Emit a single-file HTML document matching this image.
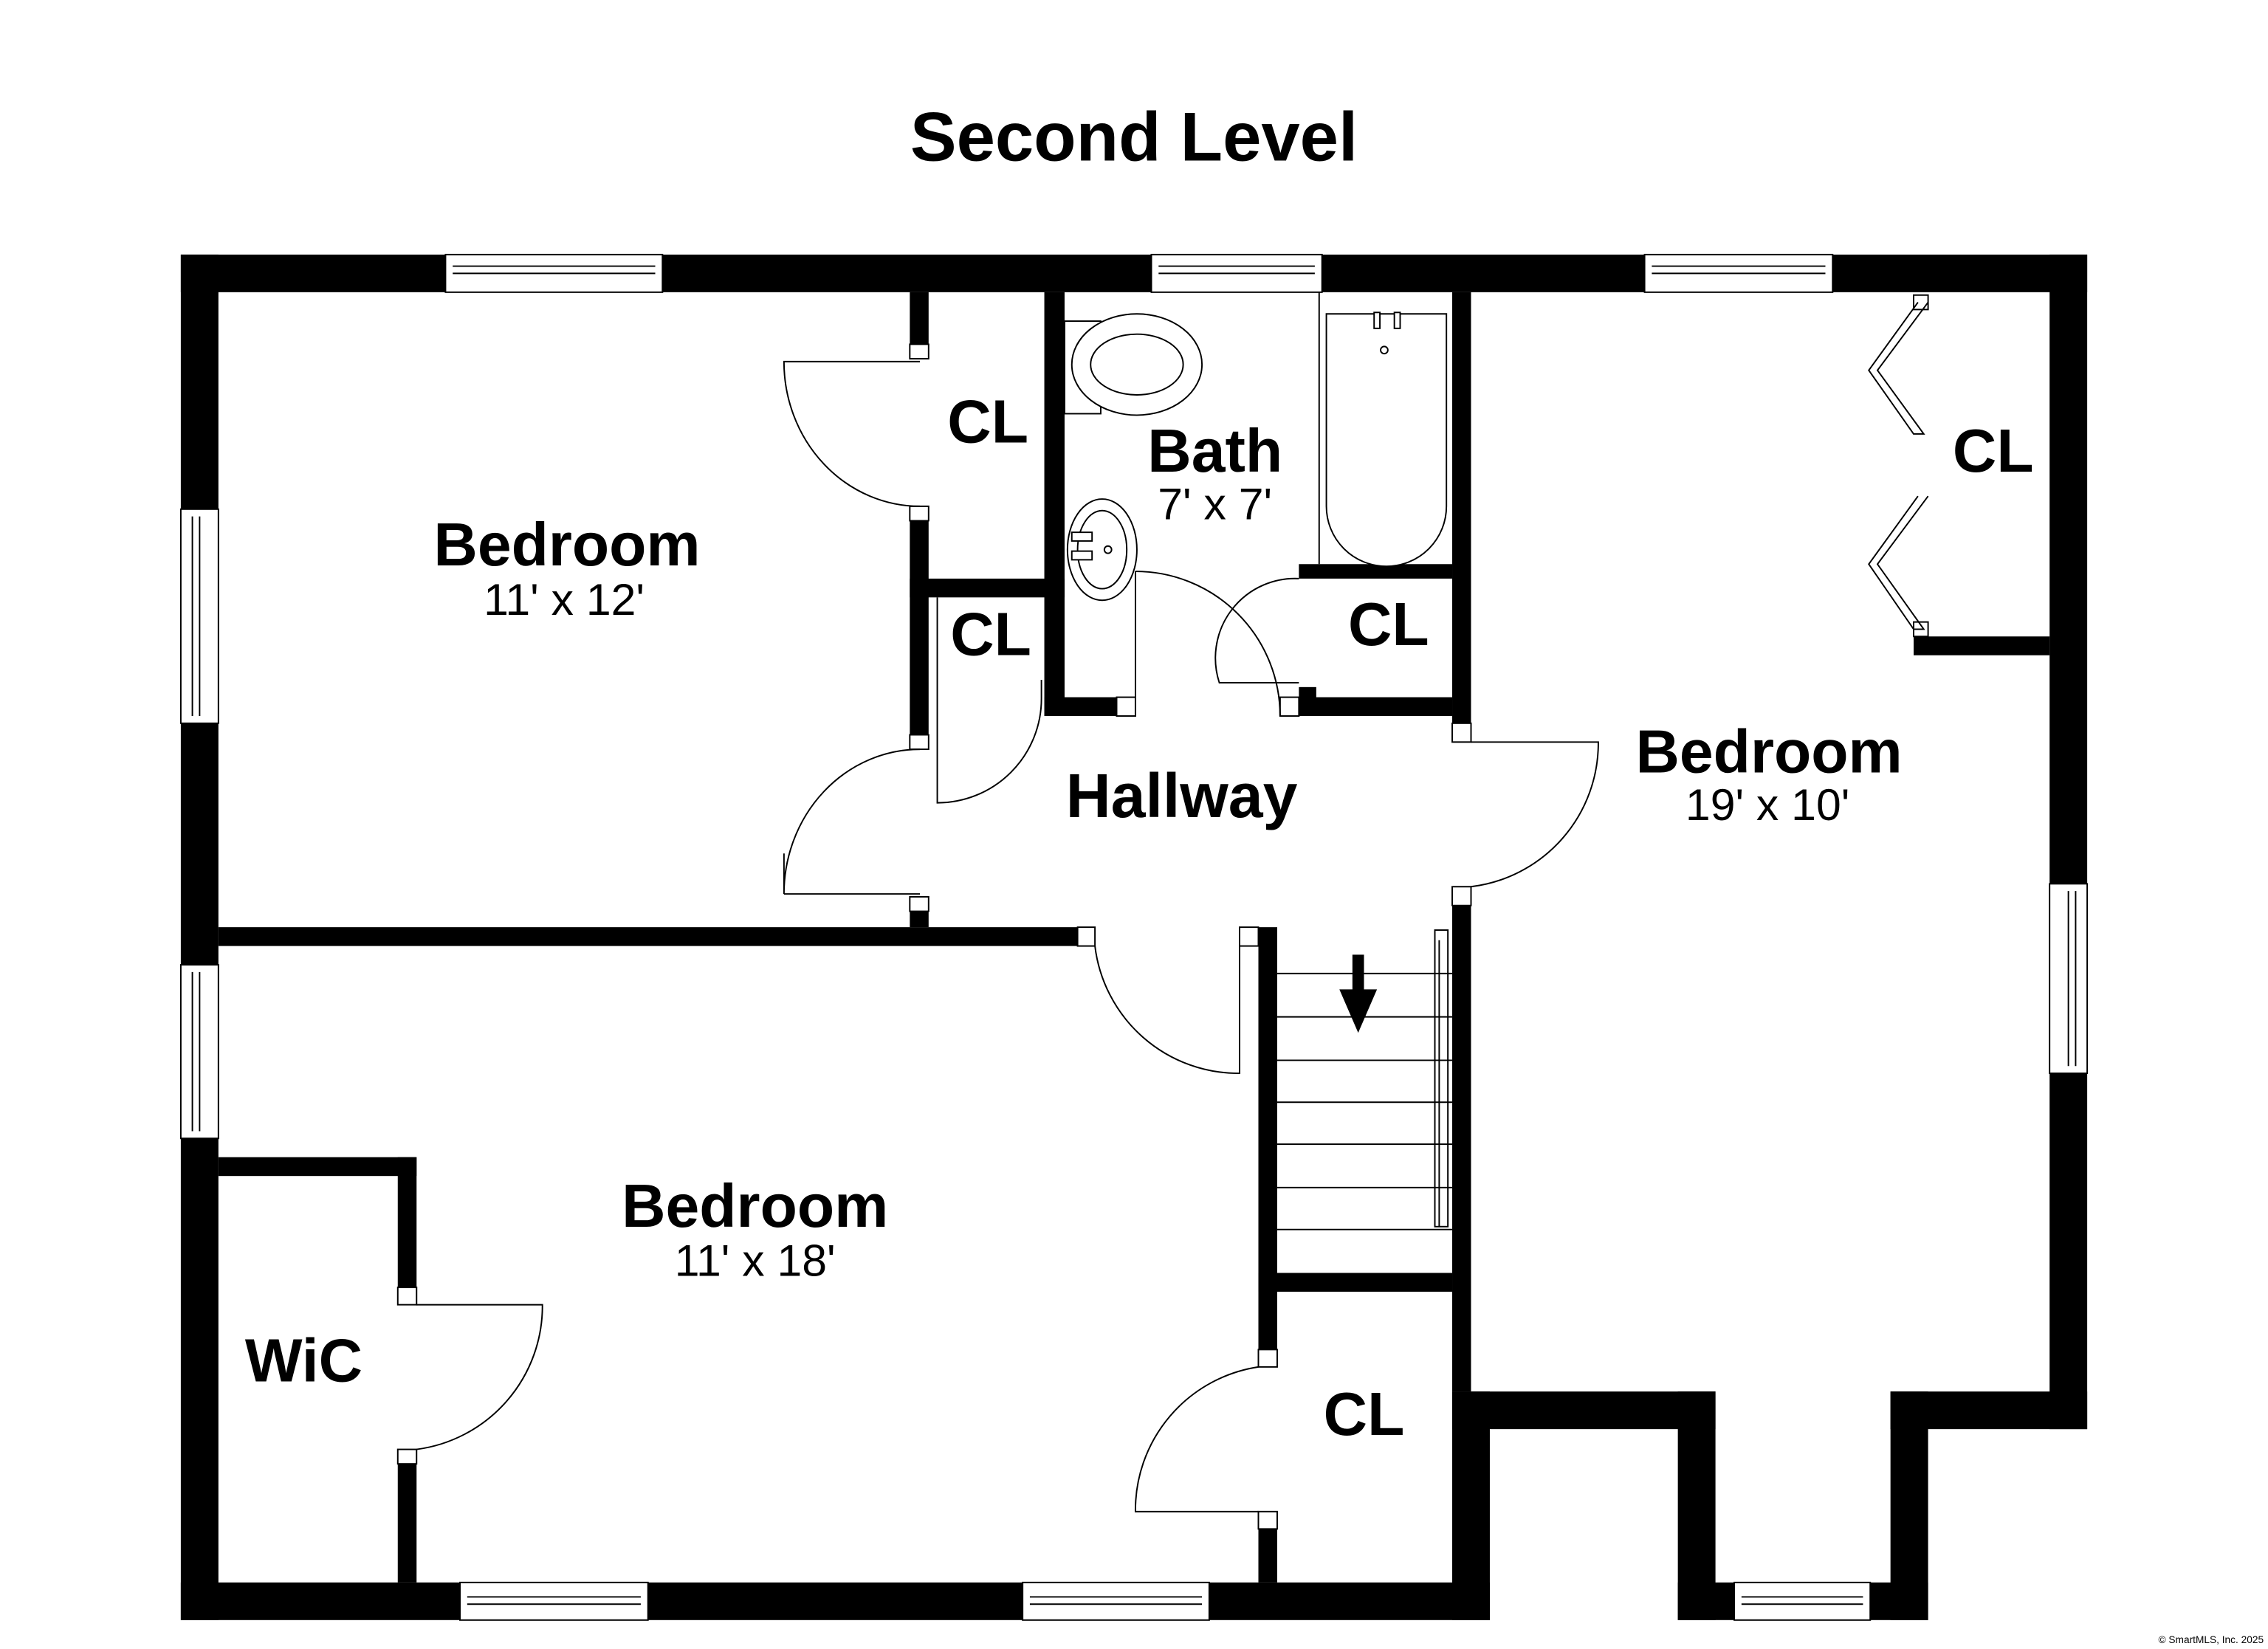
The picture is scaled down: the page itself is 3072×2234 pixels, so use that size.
<!DOCTYPE html>
<html><head><meta charset="utf-8"><style>
html,body{margin:0;padding:0;background:#fff;}
svg{display:block;}
text{font-family:"Liberation Sans",Arial,sans-serif;fill:#000;}
.b{font-weight:bold;}
</style></head><body>
<svg width="3072" height="2234" viewBox="0 0 1568 1140" preserveAspectRatio="none" xmlns="http://www.w3.org/2000/svg">
<rect width="1568" height="1140" fill="#fff"/>
<text x="784" y="111" text-anchor="middle" class="b" font-size="48">Second Level</text>
<g fill="#000">
<rect x="125" y="176" width="1318" height="26"/>
<rect x="125" y="176" width="26" height="944"/>
<rect x="125" y="1094" width="905" height="26"/>
<rect x="1417" y="176" width="26" height="812"/>
<rect x="1004" y="962" width="182" height="26"/>
<rect x="1004" y="962" width="26" height="158"/>
<rect x="1160" y="962" width="26" height="158"/>
<rect x="1160" y="1094" width="173" height="26"/>
<rect x="1307" y="962" width="26" height="158"/>
<rect x="1307" y="962" width="136" height="26"/>
<rect x="151" y="641" width="594" height="13"/>
<rect x="629" y="202" width="13" height="46"/>
<rect x="629" y="350" width="13" height="158"/>
<rect x="629" y="620" width="13" height="21"/>
<rect x="629" y="400" width="107" height="13"/>
<rect x="722" y="202" width="14" height="293"/>
<rect x="722" y="482" width="50" height="13"/>
<rect x="898" y="390" width="106" height="10"/>
<rect x="898" y="475" width="12" height="20"/>
<rect x="898" y="482" width="106" height="13"/>
<rect x="1004" y="202" width="13" height="298"/>
<rect x="1004" y="620" width="13" height="342"/>
<rect x="870" y="641" width="13" height="292"/>
<rect x="870" y="1057" width="13" height="37"/>
<rect x="870" y="880" width="134" height="13"/>
<rect x="1323" y="440" width="94" height="13"/>
<rect x="151" y="800" width="137" height="13"/>
<rect x="275" y="800" width="13" height="90"/>
<rect x="275" y="1012" width="13" height="82"/>
</g>
<g fill="#fff" stroke="#000" stroke-width="1">
<rect x="308" y="176" width="150" height="26"/><line x1="313" y1="184" x2="453" y2="184"/><line x1="313" y1="189" x2="453" y2="189"/>
<rect x="796" y="176" width="118" height="26"/><line x1="801" y1="184" x2="909" y2="184"/><line x1="801" y1="189" x2="909" y2="189"/>
<rect x="1137" y="176" width="130" height="26"/><line x1="1142" y1="184" x2="1262" y2="184"/><line x1="1142" y1="189" x2="1262" y2="189"/>
<rect x="125" y="352" width="26" height="148"/><line x1="133" y1="357" x2="133" y2="495"/><line x1="138" y1="357" x2="138" y2="495"/>
<rect x="125" y="667" width="26" height="120"/><line x1="133" y1="672" x2="133" y2="782"/><line x1="138" y1="672" x2="138" y2="782"/>
<rect x="1417" y="611" width="26" height="131"/><line x1="1430" y1="616" x2="1430" y2="737"/><line x1="1435" y1="616" x2="1435" y2="737"/>
<rect x="318" y="1094" width="130" height="26"/><line x1="323" y1="1104" x2="443" y2="1104"/><line x1="323" y1="1109" x2="443" y2="1109"/>
<rect x="707" y="1094" width="129" height="26"/><line x1="712" y1="1104" x2="831" y2="1104"/><line x1="712" y1="1109" x2="831" y2="1109"/>
<rect x="1199" y="1094" width="94" height="26"/><line x1="1204" y1="1104" x2="1288" y2="1104"/><line x1="1204" y1="1109" x2="1288" y2="1109"/>
<rect x="629" y="238" width="13" height="10"/><rect x="629" y="350" width="13" height="10"/>
<rect x="629" y="508" width="13" height="10"/><rect x="629" y="620" width="13" height="10"/>
<rect x="772" y="482" width="13" height="13"/><rect x="885" y="482" width="13" height="13"/>
<rect x="1004" y="500" width="13" height="13"/><rect x="1004" y="613" width="13" height="13"/>
<rect x="745" y="641" width="12" height="13"/><rect x="857" y="641" width="13" height="13"/>
<rect x="870" y="933" width="13" height="12"/><rect x="870" y="1045" width="13" height="12"/>
<rect x="275" y="890" width="13" height="12"/><rect x="275" y="1002" width="13" height="10"/>
<rect x="1323" y="204" width="10" height="10"/><rect x="1323" y="430" width="10" height="10"/>
<rect x="736" y="222" width="25" height="64"/>
<ellipse cx="786" cy="252" rx="45" ry="35"/><ellipse cx="786" cy="252" rx="32" ry="21"/>
<path d="M917 217 H1000 V350 A41 41 0 0 1 917 350 Z"/>
<ellipse cx="762" cy="380" rx="24" ry="35"/><ellipse cx="762" cy="380" rx="17" ry="27"/>
<circle cx="957" cy="242" r="2.5"/><circle cx="766" cy="380" r="2.5"/>
<rect x="741" y="368" width="14" height="6"/><rect x="741" y="381" width="14" height="6"/>
<rect x="950" y="216" width="4" height="11"/><rect x="964" y="216" width="4" height="11"/>
</g>
<g fill="none" stroke="#000" stroke-width="1">
<line x1="912" y1="202" x2="912" y2="390"/>
<line x1="785" y1="395" x2="785" y2="495"/>
<path d="M636 250 H542 A94 100 0 0 0 636 350"/>
<path d="M636 518 A94 100 0 0 0 542 618 V590 M542 618 H636"/>
<path d="M648 413 V555 A72 72 0 0 0 720 483 V470"/>
<path d="M785 395 A100 100 0 0 1 885 495"/>
<path d="M898 400 A55 55 0 0 0 843 472 H898"/>
<path d="M1017 513 H1105 A100 100 0 0 1 1017 613"/>
<path d="M757 654 A100 100 0 0 0 857 742 V654"/>
<path d="M870 945 A100 100 0 0 0 785 1045 H870"/>
<path d="M288 902 H375 A100 100 0 0 1 288 1002"/>
<path d="M1333 209 L1298 256 L1330 300 L1323 300 L1292 256 L1326 209"/>
<path d="M1333 343 L1298 390 L1330 435 L1323 435 L1292 390 L1326 343"/>
<line x1="883" y1="673" x2="1004" y2="673"/>
<line x1="883" y1="703" x2="1004" y2="703"/>
<line x1="883" y1="733" x2="1004" y2="733"/>
<line x1="883" y1="762" x2="1004" y2="762"/>
<line x1="883" y1="791" x2="1004" y2="791"/>
<line x1="883" y1="821" x2="1004" y2="821"/>
<line x1="883" y1="850" x2="1004" y2="850"/>
<rect x="992" y="643" width="9" height="205"/>
<line x1="995" y1="650" x2="995" y2="848"/>
</g>
<path d="M935 660 h8 v24 h9 l-13 30 l-13 -30 h9 z" fill="#000"/>
<g class="b" font-size="42" text-anchor="middle">
<text x="392" y="391" class="b">Bedroom</text>
<text x="683" y="306" class="b">CL</text>
<text x="685" y="453" class="b">CL</text>
<text x="840" y="326" class="b">Bath</text>
<text x="960" y="446" class="b">CL</text>
<text x="1378" y="326" class="b">CL</text>
<text x="817" y="565" class="b" font-size="43">Hallway</text>
<text x="1223" y="534" class="b">Bedroom</text>
<text x="522" y="848" class="b">Bedroom</text>
<text x="210" y="955" class="b">WiC</text>
<text x="943" y="992" class="b">CL</text>
</g>
<g font-size="31" text-anchor="middle">
<text x="390" y="425">11' x 12'</text>
<text x="840" y="359">7' x 7'</text>
<text x="1222" y="567">19' x 10'</text>
<text x="522" y="882">11' x 18'</text>
</g>
<text x="1565" y="1136" text-anchor="end" font-size="7">© SmartMLS, Inc. 2025</text>
</svg>
</body></html>
